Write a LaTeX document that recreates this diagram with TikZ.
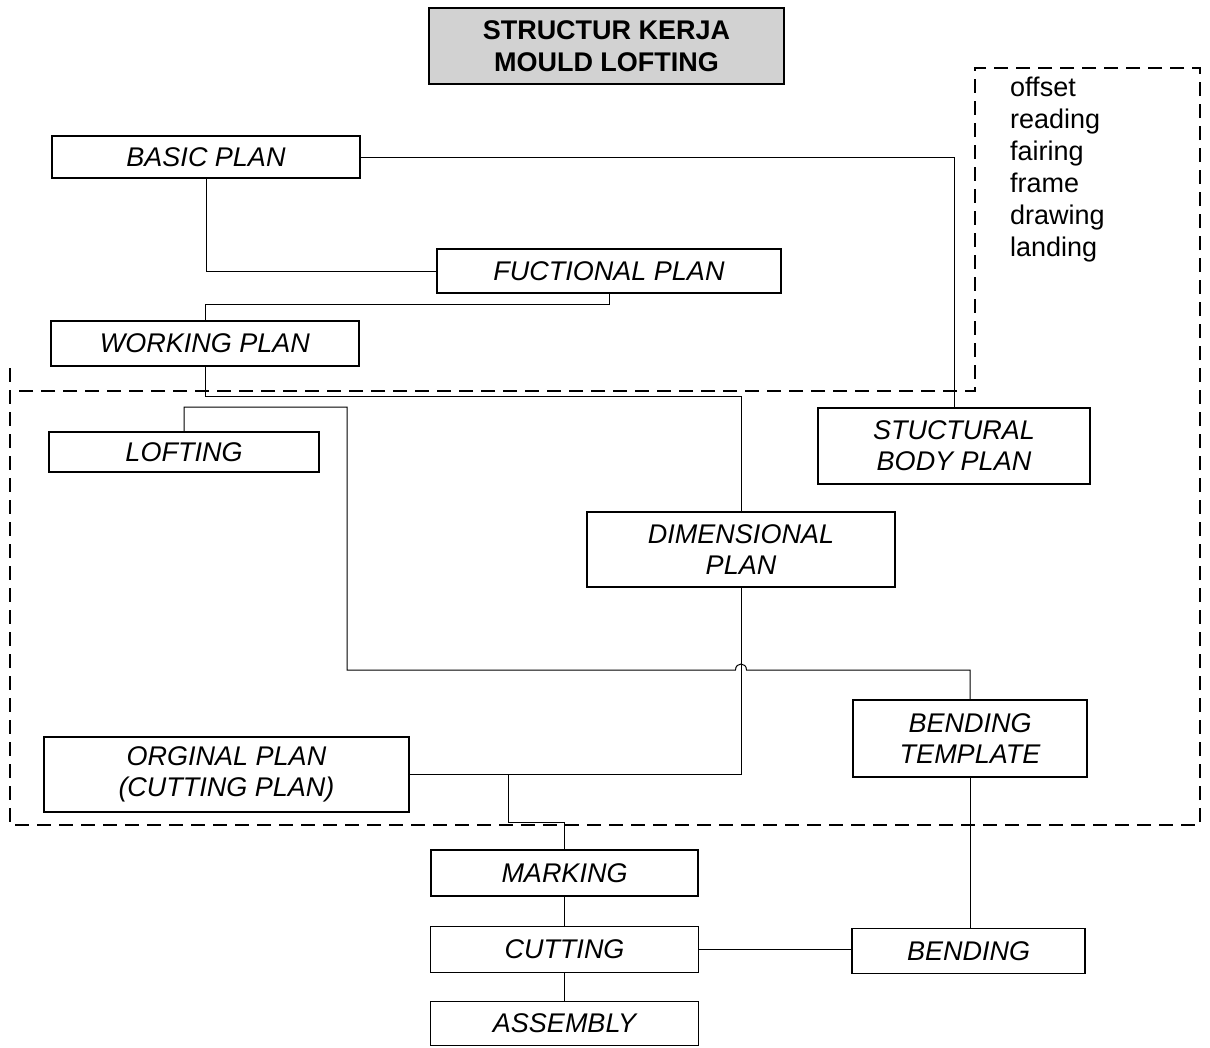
\documentclass[tikz,border=0pt]{standalone}
\usepackage{fontspec}
\setmainfont{Liberation Sans}
\begin{document}
\begin{tikzpicture}[x=1pt,y=-1pt,
  box/.style={draw,line width=1.6pt,rectangle,inner sep=0pt,align=center,
    font=\fontsize{27}{31}\selectfont\itshape},
  conn/.style={line width=1pt},
  border/.style={line width=1.8pt,dash pattern=on 14pt off 8pt}]
\useasboundingbox (0,0) rectangle (1210,1047);
% title
\node[box,fill=gray!35,font=\fontsize{27}{32}\selectfont\bfseries,minimum width=355pt,minimum height=76pt] (title) at (606.5,46) {STRUCTUR KERJA\\MOULD LOFTING};
% boxes
\node[box,minimum width=308pt,minimum height=42pt] (basic) at (206,157) {BASIC PLAN};
\node[box,minimum width=344pt,minimum height=44pt] (fuct) at (609,271) {FUCTIONAL PLAN};
\node[box,minimum width=308pt,minimum height=45pt] (working) at (205,343.5) {WORKING PLAN};
\node[box,minimum width=270pt,minimum height=40pt] (lofting) at (184,452) {LOFTING};
\node[box,minimum width=272pt,minimum height=76pt] (struct) at (954,446) {STUCTURAL\\BODY PLAN};
\node[box,minimum width=308pt,minimum height=75pt] (dim) at (741,549.5) {DIMENSIONAL\\PLAN};
\node[box,minimum width=234pt,minimum height=77pt] (bendtemp) at (970,738.5) {BENDING\\TEMPLATE};
\node[box,minimum width=365pt,minimum height=75pt] (orig) at (226.5,774.5) {ORGINAL PLAN\\(CUTTING PLAN)};
\node[box,minimum width=267pt,minimum height=46pt] (marking) at (564.5,873) {MARKING};
\node[box,minimum width=268pt,minimum height=46pt] (cutting) at (564.5,949.5) {CUTTING};
\node[box,minimum width=233pt,minimum height=45pt] (bending) at (968.5,951) {BENDING};
\node[box,minimum width=268pt,minimum height=44pt] (assembly) at (564.5,1023.5) {ASSEMBLY};
% side list
\node[anchor=north west,inner sep=0pt,align=left,font=\fontsize{27}{32}\selectfont] (list) at (1010,77) {offset\\reading\\fairing\\frame\\drawing\\landing};
% dashed border
\draw[border] (10,368) -- (10,825) -- (1200,825) -- (1200,68) -- (975,68) -- (975,391) -- (16,391);
% connectors
\draw[conn] (basic.east) -| (struct.north);
\draw[conn] (basic.south) |- (fuct.west);
\coordinate (f1) at (609,304);
\draw[conn] (fuct.south) -- (f1) -| (working.north);
\coordinate (w1) at (205,396);
\draw[conn] (working.south) -- (w1) -| (dim.north);
\coordinate (l1) at (347,407);
\coordinate (l2) at (347,670);
\coordinate (hl) at (735.5,670);
\coordinate (hr) at (746.5,670);
\coordinate (l3) at (970,670);
\draw[conn] (lofting.north) |- (l1) -- (l2) -- (hl) .. controls (735.5,662) and (746.5,662) .. (hr) -- (l3) -- (bendtemp.north);
\draw[conn] (dim.south) |- (orig.east);
\coordinate (j1) at (508,774.5);
\coordinate (j2) at (508,822);
\draw[conn] (j1) -- (j2) -| (marking.north);
\draw[conn] (marking.south) -- (cutting.north);
\draw[conn] (cutting.south) -- (assembly.north);
\draw[conn] (cutting.east) -- (cutting.east -| bending.west);
\draw[conn] (bendtemp.south) -- (bendtemp.south |- bending.north);
\end{tikzpicture}
\end{document}
